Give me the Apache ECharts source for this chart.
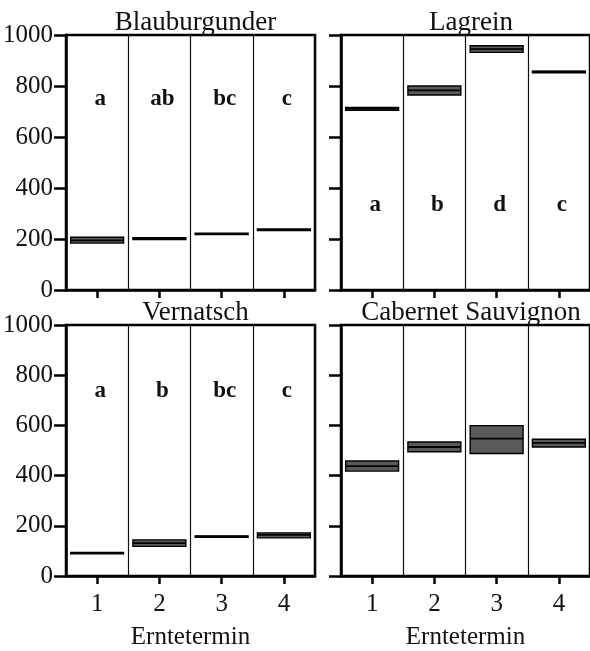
<!DOCTYPE html>
<html>
<head>
<meta charset="utf-8">
<script src="https://cdn.jsdelivr.net/npm/echarts@6/dist/echarts.min.js"></script>
<style>
html,body{margin:0;padding:0;background:#fff;}
#chart{width:590px;height:651px;}
</style>
</head>
<body>
<div id="chart"></div>
<script>
// ---- data ----
const categories = ['1', '2', '3', '4'];
const panelTitles = ['Blauburgunder', 'Lagrein', 'Vernatsch', 'Cabernet Sauvignon'];
const xAxisName = 'Erntetermin';
const yTicks = [0, 200, 400, 600, 800, 1000];

const blauLow  = [184, 198, 217, 233];
const blauMean = [195, 201, 220, 236];
const blauHigh = [207, 205, 223, 239];
const blauLetters = ['a', 'ab', 'bc', 'c'];

const lagLow  = [705, 765, 932, 853];
const lagMean = [711, 783, 945, 856];
const lagHigh = [716, 800, 958, 858];
const lagLetters = ['a', 'b', 'd', 'c'];

const verLow  = [90, 118, 154, 152];
const verMean = [92, 131, 157, 164];
const verHigh = [94, 144, 160, 172];
const verLetters = ['a', 'b', 'bc', 'c'];

const cabLow  = [418, 495, 488, 514];
const cabMean = [438, 514, 547, 530];
const cabHigh = [458, 534, 599, 545];
const cabLetters = [];

// ---- layout ----
const FONT = '"Liberation Serif", "DejaVu Serif", serif';
const grids = [
  {left: 66, top: 35, width: 249, height: 255},
  {left: 341, top: 35, width: 250, height: 255},
  {left: 66, top: 325, width: 249, height: 254},
  {left: 341, top: 325, width: 250, height: 254}
];
const letterLevel = [748, 335, 736, 0];

const panels = [
  {low: blauLow, mean: blauMean, high: blauHigh, letters: blauLetters},
  {low: lagLow, mean: lagMean, high: lagHigh, letters: lagLetters},
  {low: verLow, mean: verMean, high: verHigh, letters: verLetters},
  {low: cabLow, mean: cabMean, high: cabHigh, letters: cabLetters}
];

const option = {
  backgroundColor: '#fff',
  animation: false,
  title: panelTitles.map((t, i) => ({
    text: t,
    left: grids[i].left + grids[i].width / 2,
    textAlign: 'center',
    top: grids[i].top - 31,
    textStyle: {fontFamily: FONT, fontWeight: 'normal', fontSize: 27, color: '#111'}
  })),
  grid: grids.map(g => Object.assign({show: true, borderColor: '#000', borderWidth: 2.5, backgroundColor: '#fff'}, g)),
  xAxis: grids.map((g, i) => ({
    type: 'category',
    gridIndex: i,
    data: categories,
    boundaryGap: true,
    axisLine: {show: true, lineStyle: {color: '#000', width: 2.5}},
    axisTick: {show: true, alignWithLabel: true, length: 8, lineStyle: {color: '#000', width: 2.5}},
    axisLabel: {show: i >= 2, margin: 16, fontFamily: FONT, fontSize: 25, color: '#111'},
    splitLine: {show: true, lineStyle: {color: '#111', width: 1.2}},
    name: i >= 2 ? xAxisName : '',
    nameLocation: 'middle',
    nameGap: 49,
    nameTextStyle: {fontFamily: FONT, fontSize: 25, color: '#111'}
  })),
  yAxis: grids.map((g, i) => ({
    type: 'value',
    gridIndex: i,
    min: yTicks[0],
    max: yTicks[yTicks.length - 1],
    interval: yTicks[1] - yTicks[0],
    axisLine: {show: true, lineStyle: {color: '#000', width: 2.5}},
    axisTick: {show: true, length: 12, lineStyle: {color: '#000', width: 2.5}},
    axisLabel: {show: i % 2 === 0, margin: 13, fontFamily: FONT, fontSize: 25, color: '#111',
                padding: [7, 0, 0, 0], formatter: v => String(v)},
    splitLine: {show: false}
  })),
  series: []
};

panels.forEach((p, i) => {
  option.series.push({
    type: 'custom',
    xAxisIndex: i,
    yAxisIndex: i,
    data: categories.map((c, k) => [k, p.low[k], p.mean[k], p.high[k]]),
    encode: {x: 0, y: [1, 2, 3]},
    renderItem: function (params, api) {
      const k = api.value(0);
      const pLow = api.coord([k, api.value(1)]);
      const pMean = api.coord([k, api.value(2)]);
      const pHigh = api.coord([k, api.value(3)]);
      const w = api.size([1, 0])[0] * 0.85;
      const x = pLow[0] - w / 2;
      return {
        type: 'group',
        children: [
          {type: 'rect', shape: {x: x, y: pHigh[1], width: w, height: Math.max(pLow[1] - pHigh[1], 1.5)},
           style: {fill: '#5a5a5a', stroke: '#000', lineWidth: 1.4}},
          {type: 'line', shape: {x1: x, y1: pMean[1], x2: x + w, y2: pMean[1]},
           style: {stroke: '#000', lineWidth: 1.8}}
        ]
      };
    }
  });
  if (p.letters.length) {
    option.series.push({
      type: 'custom',
      xAxisIndex: i,
      yAxisIndex: i,
      data: p.letters.map((l, k) => [k, letterLevel[i]]),
      encode: {x: 0, y: 1},
      renderItem: function (params, api) {
        const pt = api.coord([api.value(0), api.value(1)]);
        return {
          type: 'text',
          x: pt[0] + 3, y: pt[1],
          style: {text: p.letters[params.dataIndex], fill: '#111', align: 'center', verticalAlign: 'middle',
                  font: 'bold 23px ' + FONT}
        };
      }
    });
  }
});

const chart = echarts.init(document.getElementById('chart'));
chart.setOption(option);
</script>
</body>
</html>
